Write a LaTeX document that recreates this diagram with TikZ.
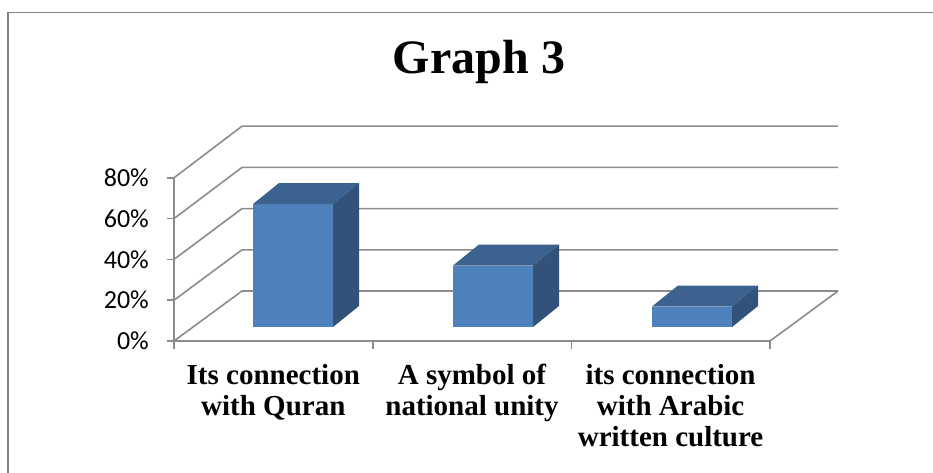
\documentclass[tikz,border=0pt]{standalone}
\usepackage{fontspec}
\setmainfont{Liberation Serif}
\newfontfamily\axisfont{Carlito}
\definecolor{gridgray}{RGB}{140,140,140}
\definecolor{framegray}{RGB}{128,128,128}
\definecolor{barfront}{RGB}{79,129,189}
\definecolor{bartop}{RGB}{60,98,144}
\definecolor{barside}{RGB}{50,82,121}
\begin{document}
\begin{tikzpicture}[x=1pt,y=-1pt,
  grid/.style={draw=gridgray,line width=1.6pt},
  frame/.style={draw=framegray,line width=1.6pt},
  valuelabel/.style={anchor=east,inner sep=0pt,font=\axisfont\fontsize{26}{28}\selectfont},
  catlabel/.style={anchor=north,align=center,inner sep=0pt,font=\bfseries\fontsize{29}{31}\selectfont},
  titlelabel/.style={inner sep=0pt,font=\bfseries\fontsize{48}{50}\selectfont}]
\useasboundingbox (0,0) rectangle (933,473);
\fill[white] (0,0) rectangle (933,473);
% outer frame (left and top edges)
\draw[frame] (8,473) -- (8,12.5) -- (933,12.5);
% title
\node[titlelabel] (title) at (479,62) {Graph 3};
% value grid: left wall diagonals and back wall lines
\foreach \k in {0,...,4}{
  \draw[grid] (174,{341-40.8*\k}) -- (242,{291-41.2*\k}) -- (838,{291-41.2*\k});
  \draw[grid] (167,{341-40.8*\k}) -- (174,{341-40.8*\k});
}
% floor front edge, right edge, value axis
\draw[grid] (174,341) -- (770,341) -- (838,291);
\draw[grid] (174,341) -- (174,177.8);
% category ticks
\foreach \x in {174,372.7,571.3,770}{
  \draw[grid] (\x,341) -- (\x,349);
}
% value labels
\foreach \k/\t in {0/0\%,1/20\%,2/40\%,3/60\%,4/80\%}{
  \node[valuelabel] (v\k) at (149,{341-40.8*\k}) {\t};
}
% bars: centre x, value
\foreach \c/\v [count=\i] in {293/60,493/30,692/10}{
  \pgfmathsetmacro{\top}{327-2.05*\v}
  \fill[barfront] (\c-40,327) rectangle (\c+40,\top);
  \fill[bartop] (\c-40,\top) -- (\c+40,\top) -- (\c+66,\top-21) -- (\c-14,\top-21) -- cycle;
  \fill[barside] (\c+40,327) -- (\c+40,\top) -- (\c+66,\top-21) -- (\c+66,306) -- cycle;
}
% category labels
\node[catlabel] (c1) at (273.3,364) {Its connection\\with Quran};
\node[catlabel] (c2) at (472,364) {A symbol of\\national unity};
\node[catlabel] (c3) at (670.6,364) {its connection\\with Arabic\\written culture};
\end{tikzpicture}
\end{document}
